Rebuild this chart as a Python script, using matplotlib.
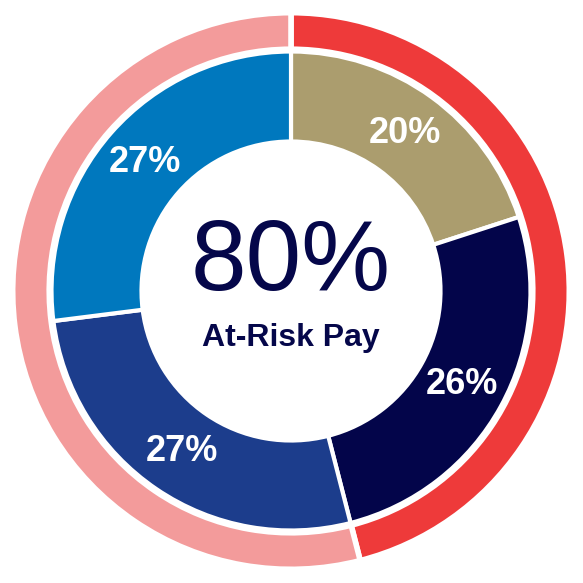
"""Donut chart of at-risk pay mix with an outer split ring."""
# %% Imports
from matplotlib import pyplot as plt

# %% Data
inner_labels = ["20%", "26%", "27%", "27%"]
inner_values = [20, 26, 27, 27]
inner_colors = ["#ab9d6e", "#03054a", "#1c3d8c", "#0078be"]

outer_values = [46, 54]
outer_colors = ["#ee3a3a", "#f39b9b"]

center_value = "80%"
center_text = "At-Risk Pay"

# %% Plot
plt.rcParams["font.family"] = ["Liberation Sans", "DejaVu Sans"]
fig = plt.figure(figsize=(5.83, 5.83), dpi=100)
ax = fig.add_axes([0, 0, 1, 1])

# outer ring
ax.pie(
    outer_values,
    colors=outer_colors,
    radius=278.3,
    startangle=90,
    counterclock=False,
    wedgeprops=dict(width=36.5, edgecolor="white", linewidth=4.0),
)

# inner donut
wedges, texts = ax.pie(
    inner_values,
    colors=inner_colors,
    radius=239.5,
    startangle=90,
    counterclock=False,
    labels=inner_labels,
    labeldistance=194.5 / 239.5,
    wedgeprops=dict(width=90, edgecolor="white", linewidth=3.0),
    textprops=dict(color="white", fontsize=26, fontweight="bold", ha="center", va="center"),
)

ax.text(0, 27, center_value, color="#05074a", fontsize=72, ha="center", va="center")
ax.text(0, -47, center_text, color="#05074a", fontsize=23, fontweight="bold",
        ha="center", va="center")

ax.set_xlim(-291, 292)
ax.set_ylim(-292, 291)
ax.set_aspect("equal")
ax.axis("off")

fig.savefig("out.png", dpi=100, facecolor="white")
